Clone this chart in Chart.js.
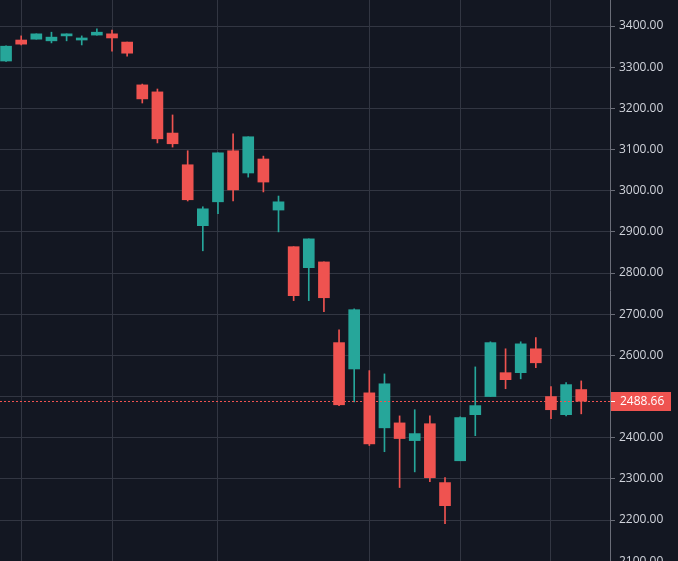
<!DOCTYPE html>
<html>
<head>
<meta charset="utf-8">
<script src="https://cdn.jsdelivr.net/npm/chart.js@4.4.1/dist/chart.umd.min.js"></script>
<style>
  html, body { margin: 0; padding: 0; background: #131722; overflow: hidden; }
  #wrap { position: relative; width: 678px; height: 580px; }
</style>
</head>
<body>
<div id="wrap"><canvas id="chart"></canvas></div>
<script>
// candles, oldest first
const opens  = [3315, 3366, 3368, 3364, 3376, 3366, 3378, 3381, 3361, 3257, 3240, 3140, 3063, 2915, 2973, 3097, 3043, 3077, 2953, 2864,
                2813, 2827, 2631, 2567, 2509, 2424, 2436, 2393, 2434, 2291, 2344, 2456, 2500, 2558, 2558, 2616, 2500, 2456, 2517];
const highs  = [3352, 3376, 3381, 3385, 3381, 3376, 3393, 3390, 3361, 3259, 3247, 3184, 3097, 2961, 3092, 3138, 3131, 3084, 2987, 2864,
                2883, 2827, 2662, 2713, 2563, 2555, 2453, 2468, 2453, 2303, 2451, 2572, 2633, 2616, 2633, 2643, 2524, 2534, 2538];
const lows   = [3314, 3354, 3368, 3359, 3364, 3354, 3378, 3339, 3327, 3213, 3116, 3106, 2975, 2854, 2944, 2975, 3033, 2997, 2900, 2733,
                2733, 2706, 2478, 2487, 2381, 2366, 2279, 2317, 2293, 2191, 2344, 2405, 2500, 2519, 2543, 2570, 2446, 2453, 2458];
const closes = [3351, 3356, 3381, 3373, 3381, 3371, 3385, 3371, 3334, 3223, 3126, 3114, 2978, 2956, 3092, 3002, 3131, 3021, 2973, 2745,
                2883, 2740, 2480, 2711, 2385, 2531, 2398, 2410, 2303, 2235, 2449, 2478, 2631, 2541, 2628, 2582, 2468, 2529, 2488.66];

const gridIdx = [1, 7, 14, 24, 30, 36];   // candles that carry a vertical grid line
const yTicks = [2100, 2200, 2300, 2400, 2500, 2600, 2700, 2800, 2900, 3000, 3100, 3200, 3300, 3400];
const lastPrice = 2488.66;

const upColor = '#26a69a';
const downColor = '#ef5350';
const gridColor = '#323642';
const axisColor = '#6a6d78';

const candleColors = opens.map((o, i) => closes[i] >= o ? upColor : downColor);
const bodies = opens.map((o, i) => ({ x: i, y: [o, closes[i]] }));
const wicks = lows.map((l, i) => ({ x: i, y: [l, highs[i]] }));

// dotted last-price line plus the red price tag on the axis
const lastPriceLine = {
  id: 'lastPriceLine',
  afterDraw(chart) {
    const { ctx, chartArea } = chart;
    const y = Math.round(chart.scales.y.getPixelForValue(lastPrice));
    ctx.save();
    ctx.strokeStyle = downColor;
    ctx.lineWidth = 1;
    ctx.setLineDash([2, 2]);
    ctx.beginPath();
    ctx.moveTo(chartArea.left, y + 0.5);
    ctx.lineTo(chartArea.right, y + 0.5);
    ctx.stroke();
    ctx.setLineDash([]);
    ctx.fillStyle = downColor;
    ctx.fillRect(chartArea.right + 1, y - 9, 60, 19);
    ctx.fillStyle = '#ffffff';
    ctx.fillRect(chartArea.right + 1, y, 4, 1);
    ctx.font = '12px "Open Sans"';
    ctx.textBaseline = 'middle';
    ctx.fillText(lastPrice.toFixed(2), chartArea.right + 10, y + 1);
    ctx.restore();
  }
};

new Chart(document.getElementById('chart'), {
  type: 'bar',
  data: {
    datasets: [
      { data: bodies, backgroundColor: candleColors, barThickness: 11, grouped: false, borderWidth: 0 },
      { data: wicks, backgroundColor: candleColors, barThickness: 1, grouped: false, borderWidth: 0 }
    ]
  },
  options: {
    responsive: true,
    maintainAspectRatio: false,
    animation: false,
    layout: { padding: 0 },
    plugins: { legend: { display: false }, tooltip: { enabled: false } },
    scales: {
      x: {
        type: 'linear',
        offset: false,
        min: -0.4,
        max: 39.9,
        afterBuildTicks: s => { s.ticks = gridIdx.map(v => ({ value: v })); },
        ticks: { display: false },
        grid: { color: gridColor, drawTicks: false, offset: false },
        border: { display: false },
        afterFit: s => { s.height = 0; s.paddingLeft = 0; s.paddingRight = 0; }
      },
      y: {
        position: 'right',
        min: 2054.4,
        max: 3463.2,
        afterBuildTicks: s => { s.ticks = yTicks.map(v => ({ value: v })); },
        ticks: {
          color: '#d1d4dc',
          font: { family: '"Open Sans"', size: 12 },
          padding: 4,
          callback: v => Math.abs(v - lastPrice) < 20 ? '' : v.toFixed(2)
        },
        grid: { color: gridColor, tickLength: 5, tickColor: axisColor },
        border: { color: axisColor },
        afterFit: s => { s.width = 68; s.paddingTop = 0; s.paddingBottom = 0; }
      }
    }
  },
  plugins: [lastPriceLine]
});
</script>
</body>
</html>
